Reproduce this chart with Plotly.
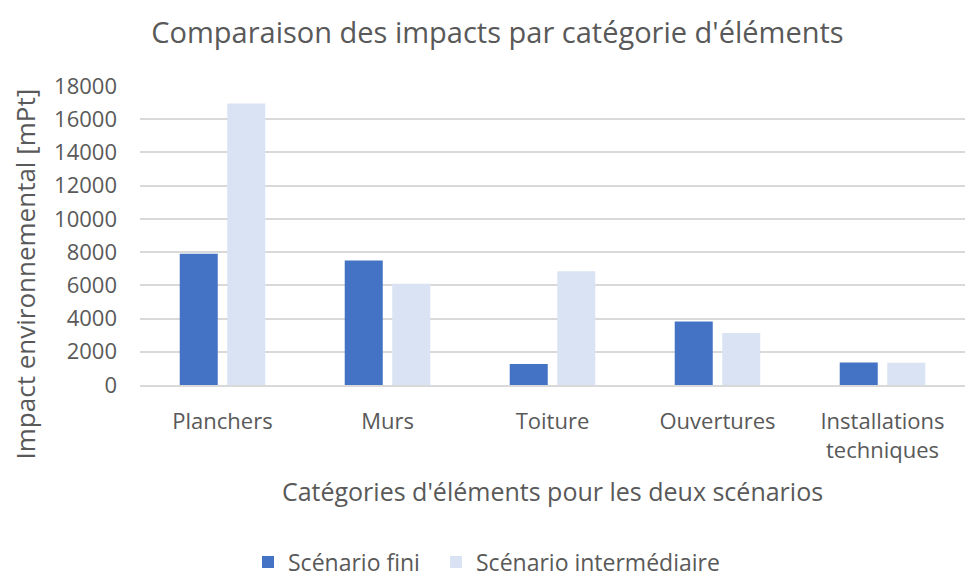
import plotly.graph_objects as go

categories = ["Planchers", "Murs", "Toiture", "Ouvertures", "Installations<br>techniques"]
scenario_fini = [7900, 7500, 1270, 3830, 1350]
scenario_intermediaire = [16950, 6100, 6850, 3130, 1340]
y_ticks = [0, 2000, 4000, 6000, 8000, 10000, 12000, 14000, 16000, 18000]

FONT = "Open Sans"
TEXT = "#595959"

# plot-area geometry in pixels
L, R, T, B = 140, 1, 86, 194
W, H = 966, 579
PW, PH = W - L - R, H - T - B


def px_x(p):
    return (p - L) / PW


def px_y(p):
    return (H - B - p) / PH


fig = go.Figure()
fig.add_trace(go.Bar(name="Scénario fini", x=categories, y=scenario_fini,
                     marker=dict(color="#4472C4", line=dict(width=0)), legend="legend"))
fig.add_trace(go.Bar(name="Scénario intermédiaire", x=categories, y=scenario_intermediaire,
                     marker=dict(color="#DAE3F3", line=dict(width=0)), legend="legend2"))

legend_common = dict(orientation="h", yanchor="middle", xanchor="left",
                     font=dict(size=23, color=TEXT, family=FONT), itemwidth=30,
                     bgcolor="rgba(0,0,0,0)")

fig.update_layout(
    width=W, height=H,
    paper_bgcolor="white", plot_bgcolor="white",
    margin=dict(l=L, r=R, t=T, b=B, autoexpand=False),
    barmode="group", bargap=0.424, bargroupgap=0.2,
    font=dict(family=FONT, color=TEXT, size=22),
    title=dict(text="Comparaison des impacts par catégorie d'éléments",
               x=0.515, xanchor="center", y=0.943, yanchor="middle",
               font=dict(size=29, color=TEXT, family=FONT)),
    legend=dict(x=px_x(248), y=px_y(562), **legend_common),
    legend2=dict(x=px_x(436), y=px_y(562), **legend_common),
    showlegend=True,
    annotations=[dict(text="Impact environnemental [mPt]", textangle=-90,
                      xref="paper", yref="paper", x=px_x(24), y=px_y(274.5),
                      xanchor="center", yanchor="middle", showarrow=False,
                      font=dict(size=26, color=TEXT, family=FONT))],
)
fig.update_yaxes(range=[0, 18000], tickvals=y_ticks, ticktext=[str(v) for v in y_ticks],
                 showgrid=True, gridcolor="#D9D9D9",
                 gridwidth=1.5, zeroline=False, showline=False,
                 tickfont=dict(size=22, color=TEXT), ticklabelstandoff=22)
fig.update_xaxes(showline=True, linecolor="#D9D9D9", linewidth=1.5, showgrid=False,
                 tickfont=dict(size=22, color=TEXT), ticklabelstandoff=16,
                 title=dict(text="Catégories d'éléments pour les deux scénarios",
                            font=dict(size=25, color=TEXT), standoff=21))

fig.write_html("out.html")
